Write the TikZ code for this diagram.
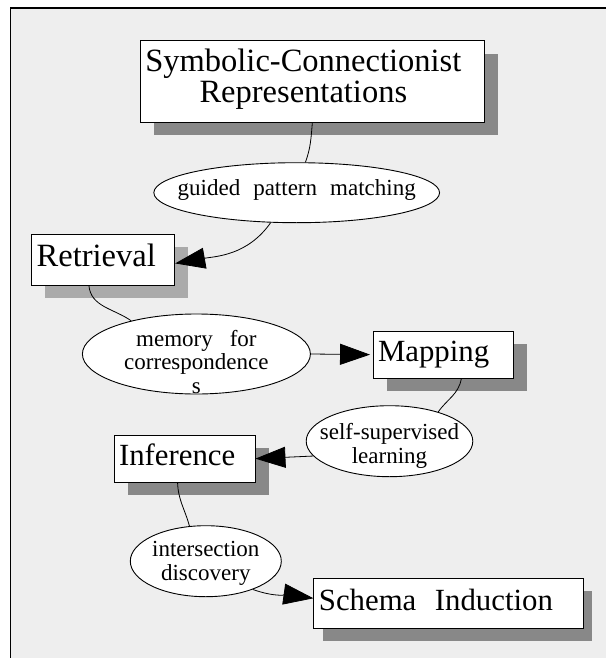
\documentclass[tikz,border=0pt]{standalone}
\usepackage{fontspec}
\setmainfont{Liberation Serif}
\usetikzlibrary{arrows.meta,shapes.geometric,shadows}

\definecolor{bggray}{HTML}{EEEEEE}
\definecolor{shadowdark}{HTML}{888888}
\definecolor{shadowlight}{HTML}{AAAAAA}

\newcommand{\boxfont}{\fontsize{32.5pt}{31pt}\selectfont}
\newcommand{\smallboxfont}{\fontsize{30.8pt}{31pt}\selectfont}
\newcommand{\ovalfont}{\fontsize{23pt}{23.5pt}\selectfont}

\begin{document}
\begin{tikzpicture}[x=1pt, y=-1pt,
    stage/.style={draw, line width=0.9pt, fill=white, font=\boxfont, align=left,
      inner xsep=5pt, inner ysep=0pt, text height=21pt, text depth=7pt},
    lift/.style={drop shadow={shadow xshift=13.5pt, shadow yshift=-13pt,
      draw=none, fill=#1, opacity=1}},
    lift/.default=shadowdark,
    oval/.style={ellipse, draw, line width=0.9pt, fill=white, font=\ovalfont,
      align=center, inner xsep=-200pt, inner ysep=-100pt},
    link/.style={line width=0.8pt},
    arr/.style={link, -{Triangle[length=30pt, width=21pt]}}]
  \useasboundingbox (0,0) rectangle (606,658);
  \fill[bggray] (10.7,8) rectangle (606,658);
  \draw[line width=1.3pt] (10.7,658) |- (606,8);

  % the stages
  \node[stage, lift, text width=334pt, minimum height=81.6pt, text height=21pt, text depth=40pt] (sym)
    at (312.35,81.5) {Symbolic-Connectionist\\\makebox[316pt]{Representations}};
  \node[stage, lift=shadowlight, text width=133pt, minimum height=50.7pt] (ret)
    at (103.2,259.65) {Retrieval};
  \node[stage, lift, font=\smallboxfont, text width=130.3pt, minimum height=47.3pt] (map)
    at (443.15,354.65) {Mapping};
  \node[stage, lift, font=\smallboxfont, text width=131pt, minimum height=47.3pt] (inf)
    at (184.5,458.65) {Inference};
  \node[stage, font=\smallboxfont, text width=259.1pt, minimum height=50pt,
    drop shadow={shadow xshift=9pt, shadow yshift=-12.5pt, draw=none, fill=shadowdark, opacity=1}] (schema)
    at (448.45,603) {Schema\hspace{18.5pt}Induction};

  % the processes between them
  \node[oval, minimum width=285.7pt, minimum height=60pt, text height=10pt, text depth=5pt] (guided)
    at (296.7,192.7) {guided\hspace{13pt}pattern\hspace{13pt}matching};
  \node[oval, minimum width=228pt, minimum height=80pt, text height=78pt, text depth=0pt] (mem)
    at (196.4,354) {memory\hspace{17pt}for\\correspondence\\s};
  \node[oval, minimum width=166.6pt, minimum height=71pt, text height=49pt, text depth=5pt] (self)
    at (389.5,441.2) {self-supervised\\learning};
  \node[oval, minimum width=151pt, minimum height=71pt, text height=42.6pt, text depth=5pt] (inter)
    at (205.8,561.2) {intersection\\discovery};

  \draw[link] (sym.south) to[out=-95, in=70] (guided.74);
  \draw[arr] (guided.-131) to[out=-125, in=10] (ret.-3);
  \draw[link] (ret.-119.5) to[out=-85, in=145] (mem.153);
  \draw[arr, shorten >=2.5pt] (mem.east) -- (map.west);
  \draw[link] (map.-53) to[out=-100, in=55] (self.31);
  \draw[arr] (self.-169) -- (inf.east);
  \draw[link] (inf.-106) to[out=-88, in=105] (inter.115);
  \draw[arr] (inter.-31) to[out=-20, in=172] (schema.178);
\end{tikzpicture}
\end{document}
